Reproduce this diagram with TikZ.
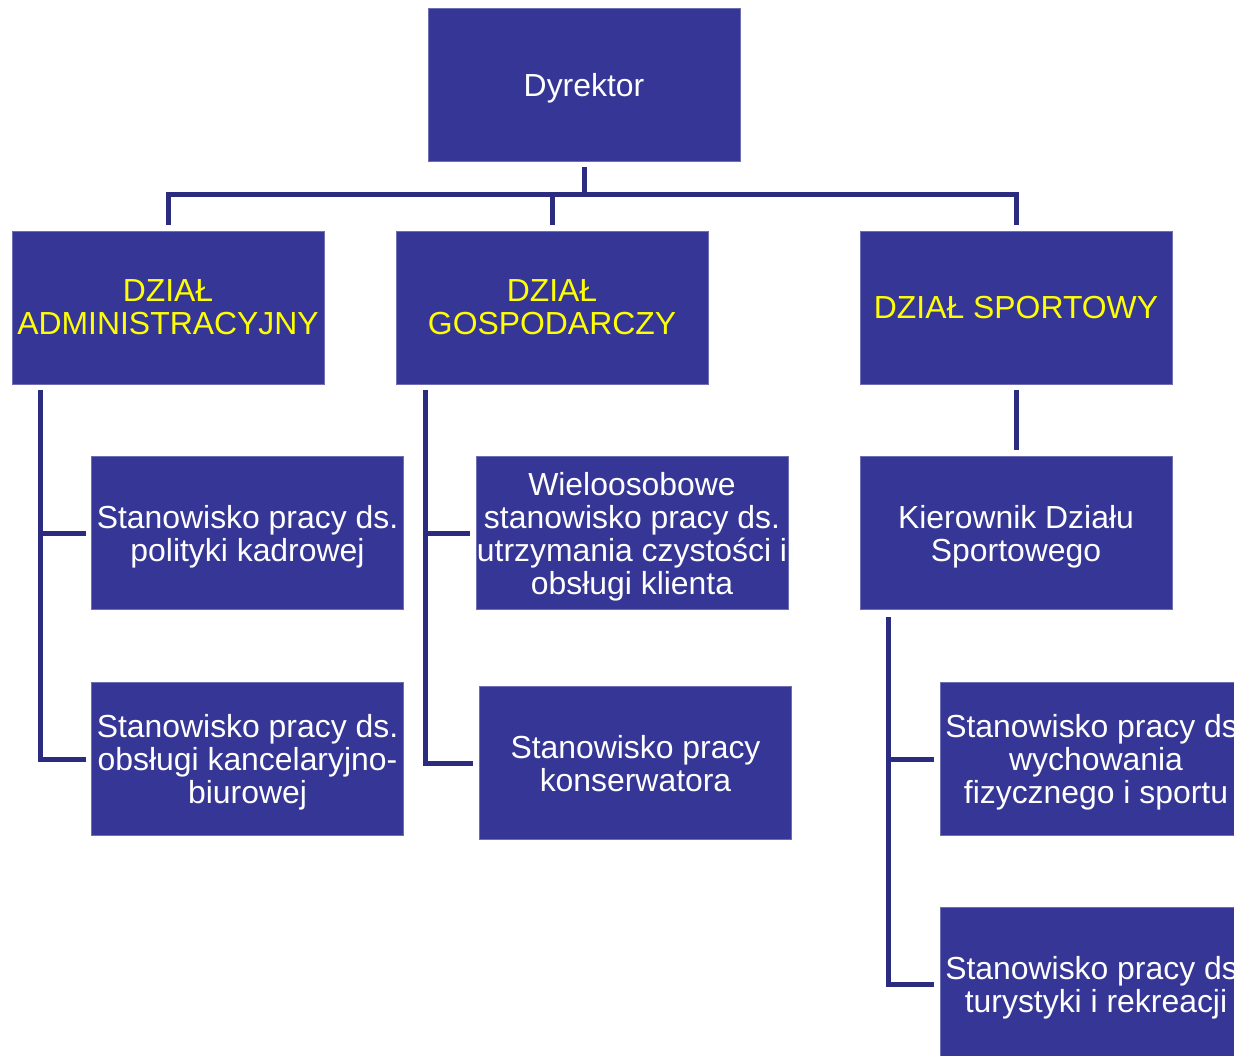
\documentclass[tikz,border=0pt]{standalone}
\usepackage{fontspec}
\setmainfont{Liberation Sans}
\definecolor{boxfill}{RGB}{54,54,150}
\definecolor{boxedge}{RGB}{110,110,180}
\definecolor{connc}{RGB}{43,43,128}
\definecolor{ytext}{RGB}{255,255,0}
\begin{document}
\begin{tikzpicture}[x=1pt,y=-1pt,
  orgbox/.style={draw=boxedge,line width=0.8pt,fill=boxfill,text=white,
    minimum width=312pt,minimum height=153pt,inner sep=0pt,align=center,
    text depth=0pt,font=\fontsize{31.9}{33}\selectfont},
  dept/.style={orgbox,text=ytext},
  conn/.style={draw=connc,line width=5pt,line join=miter,line cap=butt}]
\useasboundingbox (0,0) rectangle (1234,1056);
\clip (0,0) rectangle (1234,1056);
% nodes
\node[orgbox] (dyr) at (584,84.5) {Dyrektor};
\node[dept] (adm) at (168,307.5) {DZIAŁ\\ADMINISTRACYJNY};
\node[dept] (gos) at (552,307.5) {DZIAŁ\\GOSPODARCZY};
\node[dept] (spo) at (1016,307.5) {DZIAŁ SPORTOWY};
\node[orgbox] (adm1) at (247.5,533) {Stanowisko pracy ds.\\polityki kadrowej};
\node[orgbox] (adm2) at (247.5,759) {Stanowisko pracy ds.\\obsługi kancelaryjno-\\biurowej};
\node[orgbox] (gos1) at (632,533) {Wieloosobowe\\stanowisko pracy ds.\\utrzymania czystości i\\obsługi klienta};
\node[orgbox] (gos2) at (635.5,763) {Stanowisko pracy\\konserwatora};
\node[orgbox] (kier) at (1016,533) {Kierownik Działu\\Sportowego};
\node[orgbox] (spo1) at (1096,759) {Stanowisko pracy ds.\\wychowania\\fizycznego i sportu};
\node[orgbox] (spo2) at (1096,984) {Stanowisko pracy ds.\\turystyki i rekreacji};
% top connectors
\coordinate (bus) at (584,195);
\draw[conn] ([yshift=-6pt]dyr.south) -- (bus);
\draw[conn] ([yshift=6pt]adm.north) |- (bus) -| ([yshift=6pt]spo.north);
\draw[conn] ([yshift=6pt]gos.north) -- (gos.north |- bus);
% administrative branch
\coordinate (as) at ([xshift=29pt,yshift=-6pt]adm.south west);
\draw[conn] (as) |- ([xshift=-5pt]adm2.west);
\draw[conn] ([xshift=-5pt]adm1.west) -- (adm1.west -| as);
% economic branch
\coordinate (gs) at ([xshift=30pt,yshift=-6pt]gos.south west);
\draw[conn] (gs) |- ([xshift=-6pt]gos2.west);
\draw[conn] ([xshift=-6pt]gos1.west) -- (gos1.west -| gs);
% sport branch
\draw[conn] ([yshift=-6pt]spo.south) -- ([yshift=6pt]kier.north);
\coordinate (ss) at ([xshift=29pt,yshift=-7pt]kier.south west);
\draw[conn] (ss) |- ([xshift=-6pt]spo2.west);
\draw[conn] ([xshift=-6pt]spo1.west) -- (spo1.west -| ss);
\end{tikzpicture}
\end{document}
